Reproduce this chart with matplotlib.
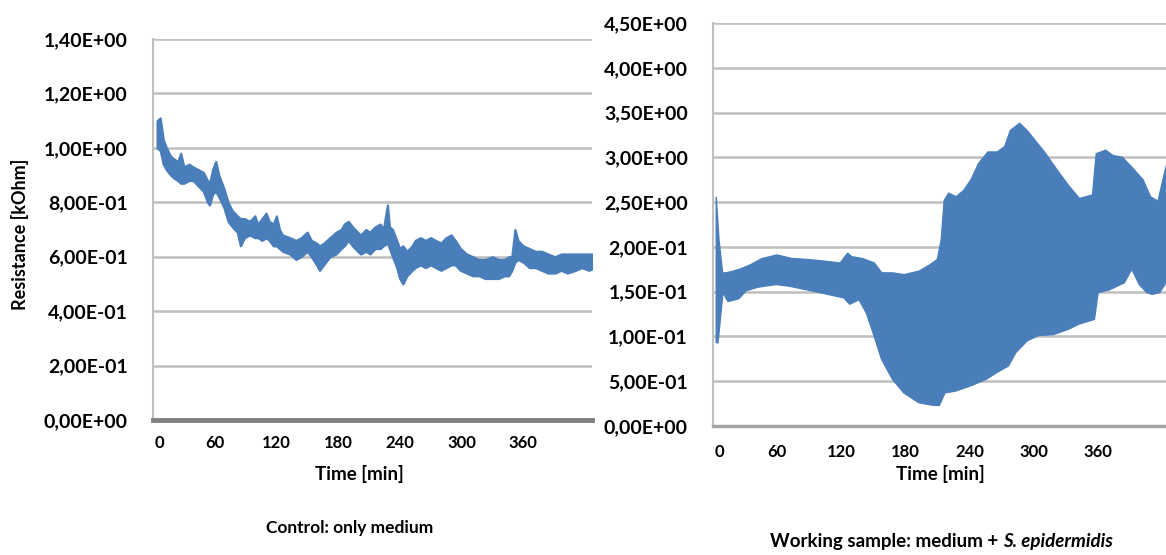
import matplotlib
matplotlib.use("Agg")
import matplotlib.pyplot as plt
import matplotlib.transforms as mtransforms
import numpy as np

plt.rcParams['font.family'] = ['Lato', 'DejaVu Sans']
plt.rcParams['font.weight'] = 'bold'

# control: only medium -- envelope of the noisy trace (minutes, kOhm)
ctrl_t = [4, 7, 10, 13, 17, 20, 24, 27, 30, 35, 39, 44, 49, 53, 55, 58, 61, 64,
          69, 73, 77, 82, 85, 89, 94, 99, 102, 106, 110, 113, 117, 120, 123, 126,
          133, 139, 144, 150, 154, 159, 162, 166, 172, 178, 183, 186, 190, 194,
          199, 202, 207, 211, 216, 221, 224, 228, 230, 233, 237, 240, 243, 247,
          252, 255, 260, 265, 270, 275, 280, 285, 290, 294, 299, 305, 311, 317,
          323, 330, 336, 342, 346, 349, 352, 355, 360, 366, 372, 378, 384, 391,
          397, 403, 411, 417, 424, 430]
ctrl_hi = [1.10, 1.11, 1.03, 1.00, 0.97, 0.96, 0.95, 0.98, 0.93, 0.94, 0.93, 0.92,
           0.91, 0.88, 0.87, 0.92, 0.95, 0.90, 0.85, 0.80, 0.77, 0.75, 0.74, 0.74,
           0.73, 0.75, 0.72, 0.74, 0.76, 0.73, 0.72, 0.75, 0.70, 0.68, 0.67, 0.66,
           0.67, 0.69, 0.66, 0.65, 0.64, 0.65, 0.67, 0.69, 0.70, 0.72, 0.73, 0.71,
           0.69, 0.68, 0.70, 0.69, 0.71, 0.72, 0.70, 0.79, 0.71, 0.70, 0.66, 0.63,
           0.64, 0.62, 0.64, 0.66, 0.67, 0.66, 0.67, 0.66, 0.65, 0.67, 0.68, 0.66,
           0.63, 0.61, 0.60, 0.59, 0.59, 0.60, 0.59, 0.59, 0.60, 0.60, 0.70, 0.66,
           0.64, 0.63, 0.62, 0.62, 0.61, 0.60, 0.61, 0.61, 0.61, 0.61, 0.61, 0.61]
ctrl_lo = [1.00, 0.99, 0.94, 0.92, 0.90, 0.89, 0.88, 0.87, 0.87, 0.88, 0.88, 0.86,
           0.84, 0.80, 0.79, 0.83, 0.84, 0.82, 0.78, 0.73, 0.71, 0.69, 0.64, 0.67,
           0.68, 0.67, 0.67, 0.66, 0.67, 0.66, 0.64, 0.64, 0.63, 0.62, 0.61, 0.59,
           0.60, 0.62, 0.60, 0.57, 0.55, 0.57, 0.60, 0.61, 0.63, 0.64, 0.66, 0.64,
           0.62, 0.61, 0.62, 0.61, 0.63, 0.63, 0.64, 0.65, 0.63, 0.60, 0.56, 0.52,
           0.50, 0.53, 0.55, 0.56, 0.57, 0.56, 0.57, 0.56, 0.55, 0.56, 0.57, 0.57,
           0.55, 0.54, 0.53, 0.53, 0.52, 0.52, 0.52, 0.53, 0.53, 0.55, 0.58, 0.59,
           0.58, 0.56, 0.56, 0.55, 0.54, 0.54, 0.55, 0.54, 0.55, 0.56, 0.55, 0.56]

# working sample: medium + S. epidermidis -- upper and lower envelope
work_t_hi = [3, 5.6, 9, 12.6, 25, 35, 46, 60, 74, 88, 105, 119, 126, 130, 140,
             151, 158, 168, 179, 193, 203, 210, 213.6, 216.4, 220.6, 227.6, 234.6,
             241.5, 248.5, 257.3, 266, 273, 278.3, 287, 294, 302.8, 311.5, 322,
             332.5, 343, 355.2, 358.7, 367.5, 374.5, 383.2, 392, 402.5, 409.5,
             416.5, 421.7, 426.3]
work_hi = [2.56, 2.08, 1.71, 1.71, 1.75, 1.80, 1.87, 1.91, 1.87, 1.86, 1.84, 1.82,
           1.93, 1.89, 1.87, 1.82, 1.71, 1.71, 1.69, 1.73, 1.80, 1.86, 2.08, 2.52,
           2.60, 2.56, 2.63, 2.75, 2.93, 3.06, 3.06, 3.12, 3.30, 3.38, 3.30, 3.17,
           3.04, 2.86, 2.69, 2.54, 2.58, 3.04, 3.08, 3.02, 3.00, 2.89, 2.75, 2.56,
           2.51, 2.78, 3.00]
work_t_lo = [3, 4.7, 9.3, 14, 24, 31, 42, 59, 72, 84, 100, 122.6, 127.9, 136.7,
             143.6, 150.7, 157.6, 168, 178.6, 192.6, 206.6, 211.9, 217.1, 227,
             241.5, 255.5, 266, 276.5, 283.5, 294, 304.5, 318.5, 332.5, 343, 357,
             360.5, 371, 385, 392, 399, 406, 411, 418, 426.3]
work_lo = [0.93, 0.93, 1.49, 1.39, 1.42, 1.51, 1.55, 1.58, 1.56, 1.53, 1.49, 1.43,
           1.36, 1.41, 1.26, 1.01, 0.75, 0.52, 0.37, 0.26, 0.23, 0.23, 0.37, 0.39,
           0.45, 0.52, 0.60, 0.67, 0.82, 0.95, 1.01, 1.02, 1.08, 1.14, 1.19, 1.49,
           1.52, 1.60, 1.75, 1.58, 1.49, 1.47, 1.49, 1.64]

x_ticks = [0, 60, 120, 180, 240, 300, 360]
y1_ticks = [0, 0.2, 0.4, 0.6, 0.8, 1.0, 1.2, 1.4]
y1_labels = ['0,00E+00', '2,00E-01', '4,00E-01', '6,00E-01', '8,00E-01',
             '1,00E+00', '1,20E+00', '1,40E+00']
y2_ticks = [0, 0.5, 1.0, 1.5, 2.0, 2.5, 3.0, 3.5, 4.0, 4.5]
y2_labels = ['0,00E+00', '5,00E-01', '1,00E-01', '1,50E-01', '2,00E-01',
             '2,50E+00', '3,00E+00', '3,50E+00', '4,00E+00', '4,50E+00']

BLUE = '#4A7EBB'
GRID = '#BFBFBF'
W, H = 1166, 555

fig = plt.figure(figsize=(W / 100, H / 100), dpi=100)
ax1 = fig.add_axes([153 / W, 1 - 420 / H, 439 / W, 381 / H])
ax2 = fig.add_axes([713 / W, 1 - 426 / H, (W - 713) / W, 403 / H])


def style(ax, yticks, ylabels, xlim, ylim, xpad):
    ax.set_xlim(*xlim)
    ax.set_ylim(*ylim)
    ax.set_yticks(yticks)
    ax.set_yticklabels(ylabels, fontsize=14, fontweight='bold')
    ax.set_xticks(x_ticks)
    ax.set_xticklabels([str(v) for v in x_ticks], fontsize=12, fontweight='bold')
    ax.tick_params(axis='both', length=0)
    ax.tick_params(axis='y', pad=18)
    ax.tick_params(axis='x', pad=xpad)
    for s in ['top', 'right']:
        ax.spines[s].set_visible(False)
    ax.spines['left'].set_color(GRID)
    ax.spines['left'].set_linewidth(1.5)
    ax.grid(axis='y', color=GRID, linewidth=1.8)
    ax.set_axisbelow(True)
    # the "0" label sits a bit right of the axis in the original
    off = mtransforms.ScaledTranslation(6 / 100, 0, fig.dpi_scale_trans)
    lab = ax.get_xticklabels()[0]
    lab.set_transform(lab.get_transform() + off)


style(ax1, y1_ticks, y1_labels, (2, 427), (0, 1.4), 11)
ax1.spines['bottom'].set_color('#808080')
ax1.spines['bottom'].set_linewidth(3.5)
ax1.fill_between(ctrl_t, ctrl_lo, ctrl_hi, color=BLUE, linewidth=1.6, edgecolor=BLUE)

style(ax2, y2_ticks, y2_labels, (1, 424), (0, 4.5), 13)
ax2.spines['bottom'].set_color('#A6A6A6')
ax2.spines['bottom'].set_linewidth(2.5)
poly_t = np.concatenate([work_t_hi, work_t_lo[::-1]])
poly_v = np.concatenate([work_hi, work_lo[::-1]])
ax2.fill(poly_t, poly_v, color=BLUE, linewidth=1.0, edgecolor=BLUE)

fig.text(20 / W, 1 - 234 / H, 'Resistance [kOhm]', rotation=90, ha='center',
         va='center', fontsize=13, fontweight='bold')
fig.text(359 / W, 1 - 474 / H, 'Time [min]', ha='center', va='center',
         fontsize=13.5, fontweight='bold')
fig.text(940 / W, 1 - 474 / H, 'Time [min]', ha='center', va='center',
         fontsize=13.5, fontweight='bold')
fig.text(350 / W, 1 - 528 / H, 'Control: only medium', ha='center', va='center',
         fontsize=12.5, fontweight='bold')

first = 'Working sample: medium + '
t1 = fig.text(770 / W, 1 - 541 / H, first, ha='left', va='center',
              fontsize=13.5, fontweight='bold')
fig.canvas.draw()
bb = t1.get_window_extent()
fig.text(bb.x1 / W, 1 - 541 / H, 'S. epidermidis', fontsize=13.5, fontweight='bold',
         style='italic', va='center', ha='left')

fig.savefig('out.png', dpi=100)
